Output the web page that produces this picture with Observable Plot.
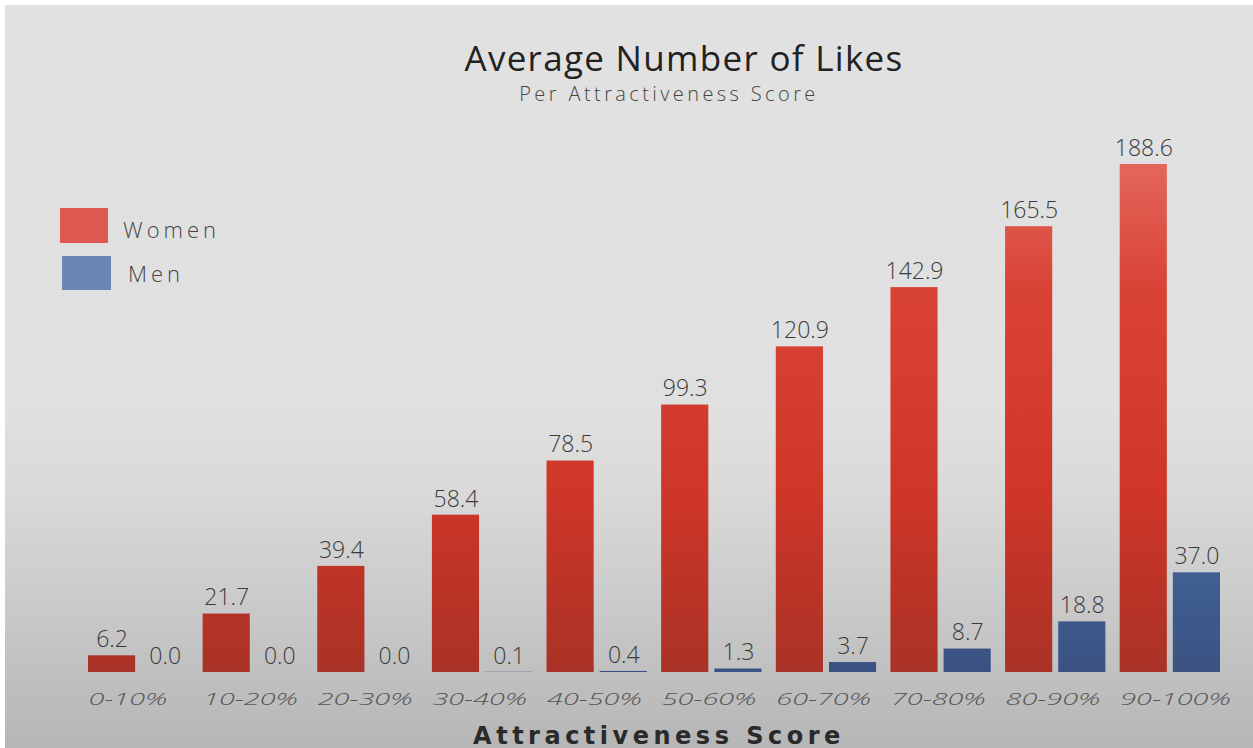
<!DOCTYPE html>
<html><head><meta charset="utf-8">
<script src="https://cdn.jsdelivr.net/npm/d3@7"></script>
<script src="https://cdn.jsdelivr.net/npm/@observablehq/plot@0.6"></script>
<style>
html,body{margin:0;padding:0;width:1253px;height:748px;overflow:hidden;}
body{position:relative;background:linear-gradient(to bottom,#e1e1e1 0%,#e0e0e0 55%,#d9d9d9 66%,#cdcdcd 78%,#c2c2c2 88%,#b6b6b6 100%);font-family:"Open Sans",sans-serif;}
#wtop{position:absolute;left:0;top:0;width:1253px;height:5px;background:#fff;z-index:5;}
#wleft{position:absolute;left:0;top:0;width:5px;height:748px;background:#fff;z-index:5;}
.abs{position:absolute;white-space:nowrap;line-height:1;}
#title{left:684px;top:40px;transform:translateX(-50%);font-size:35px;font-weight:500;color:#222;letter-spacing:1.3px;}
#subtitle{left:669px;top:84px;transform:translateX(-50%);font-size:20px;font-weight:300;color:#444;letter-spacing:3.4px;}
#xtitle{left:659px;top:724px;transform:translateX(-50%);font-family:"DejaVu Sans",sans-serif;font-size:24px;font-weight:bold;color:#2a2a2a;letter-spacing:4.5px;}
.sw{position:absolute;}
.lt{position:absolute;font-size:22px;font-weight:300;color:#444;letter-spacing:4px;line-height:1;}
#chart{position:absolute;left:0;top:120px;}
</style>
</head><body>
<div id="wtop"></div><div id="wleft"></div>
<div id="title" class="abs">Average Number of Likes</div>
<div id="subtitle" class="abs">Per Attractiveness Score</div>
<div class="sw" style="left:60px;top:208px;width:48px;height:35px;background:#e0594e;"></div>
<div class="lt" style="left:123px;top:218px;">Women</div>
<div class="sw" style="left:62px;top:256px;width:49px;height:34px;background:#6a86b4;"></div>
<div class="lt" style="left:128px;top:262px;">Men</div>
<div id="chart"></div>
<div id="xtitle" class="abs">Attractiveness Score</div>
<script>
const categories = ["0-10%","10-20%","20-30%","30-40%","40-50%","50-60%","60-70%","70-80%","80-90%","90-100%"];
const groups = ["Women","Men"];
const women = [6.2,21.7,39.4,58.4,78.5,99.3,120.9,142.9,165.5,188.6];
const men = [0.0,0.0,0.0,0.1,0.4,1.3,3.7,8.7,18.8,37.0];

const rows = categories.flatMap((c,i)=>[
  {cat:c, sex:"Women", value:women[i]},
  {cat:c, sex:"Men", value:men[i]}
]);

const svg = Plot.plot({
  width:1253, height:628,
  marginTop:44, marginBottom:76, marginLeft:88, marginRight:33,
  style:{background:"transparent", overflow:"visible"},
  fx:{domain:categories, paddingInner:0.125, paddingOuter:0, round:false, axis:null, label:null},
  x:{domain:groups, paddingInner:0.113, paddingOuter:0, round:false, axis:null},
  y:{domain:[0,188.6], axis:null},
  color:{domain:groups, range:["url(#wgrad)","url(#mgrad)"]},
  marks:[
    Plot.barY(rows,{fx:"cat", x:"sex", y:"value", fill:"sex"}),
    Plot.text(rows,{fx:"cat", x:"sex", y:"value", text:d=>d.value.toFixed(1), dy:-16,
      fontSize:23, fontWeight:300, fill:"#3a3a3a", fontFamily:"Open Sans"}),
    Plot.text(categories,{fx:d=>d, text:d=>d, frameAnchor:"bottom-left", textAnchor:"start",
      dy:32, fontSize:16, fontStyle:"italic", fontWeight:300, fill:"#555",
      fontFamily:"Open Sans"})
  ]
});

const defs = d3.select(svg).insert("defs",":first-child");
const wg = defs.append("linearGradient").attr("id","wgrad").attr("gradientUnits","userSpaceOnUse")
  .attr("x1",0).attr("x2",0).attr("y1",40).attr("y2",552);
[[0,"#e4675b"],[0.25,"#d94336"],[0.65,"#cf3628"],[1,"#a93226"]].forEach(([o,c])=>wg.append("stop").attr("offset",o).attr("stop-color",c));
const mg = defs.append("linearGradient").attr("id","mgrad").attr("gradientUnits","userSpaceOnUse")
  .attr("x1",0).attr("x2",0).attr("y1",420).attr("y2",552);
[[0,"#42649a"],[1,"#3a5282"]].forEach(([o,c])=>mg.append("stop").attr("offset",o).attr("stop-color",c));
document.getElementById("chart").appendChild(svg);

// widen the italic tick labels (geometric wide face in the original)
d3.select(svg).selectAll("text").each(function(){
  if (categories.includes(this.textContent)) {
    const w = this.getComputedTextLength();
    this.setAttribute("textLength", (w*1.8).toFixed(1));
    this.setAttribute("lengthAdjust", "spacingAndGlyphs");
  }
});
</script>
</body></html>
